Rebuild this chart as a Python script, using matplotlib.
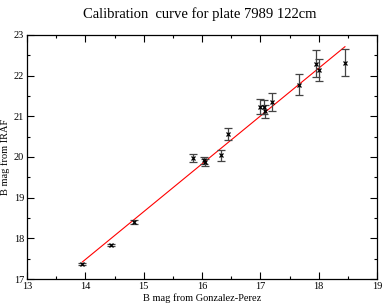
import matplotlib.pyplot as plt
import numpy as np

# B magnitudes: catalogue (Gonzalez-Perez) vs IRAF measurement
b_gp = [13.95, 14.44, 14.84, 15.85, 16.03, 16.05, 16.33, 16.44,
        16.99, 17.07, 17.08, 17.20, 17.67, 17.95, 18.01, 18.45]
b_iraf = [17.37, 17.83, 18.41, 19.97, 19.92, 19.87, 20.04, 20.57,
          21.24, 21.23, 21.12, 21.36, 21.78, 22.29, 22.13, 22.32]
b_err = [0.03, 0.03, 0.05, 0.10, 0.08, 0.08, 0.13, 0.15,
         0.19, 0.17, 0.17, 0.22, 0.26, 0.33, 0.27, 0.33]

# calibration fit
fit_slope = 1.176
fit_icpt = 1.015
fit_range = [13.95, 18.45]

plt.rcParams['font.family'] = 'Liberation Serif'

fig = plt.figure(figsize=(3.82, 3.03), dpi=100)
ax = fig.add_axes([0.0707, 0.0792, 0.9163, 0.8053])

fx = np.array(fit_range)
ax.plot(fx, fit_slope * fx + fit_icpt, color='red', lw=0.8)

ax.errorbar(b_gp, b_iraf, yerr=b_err, fmt='x', color='black', ms=3.5, mew=0.9,
            ecolor='#444444', elinewidth=0.9, capsize=3, capthick=0.9)

ax.set_xlim(13, 19)
ax.set_ylim(17, 23)
ax.set_xticks(np.arange(13, 20, 1))
ax.set_yticks(np.arange(17, 24, 1))
ax.set_xticks(np.arange(13.5, 19, 1), minor=True)
ax.set_yticks(np.arange(17.5, 23, 1), minor=True)
ax.tick_params(which='both', direction='in', top=True, right=True,
               labelsize=7.5, pad=2)
ax.tick_params(which='major', length=5, width=0.8)
ax.tick_params(which='minor', length=2.5, width=0.8)
for s in ax.spines.values():
    s.set_linewidth(0.9)

ax.set_xlabel('B mag from Gonzalez-Perez', fontsize=7.5, labelpad=2)
ax.set_ylabel('B mag from IRAF', fontsize=7.5, labelpad=3)
fig.text(0.523, 0.955, 'Calibration  curve for plate 7989 122cm',
         ha='center', va='center', fontsize=10.5)

fig.savefig('out.png', dpi=100)
